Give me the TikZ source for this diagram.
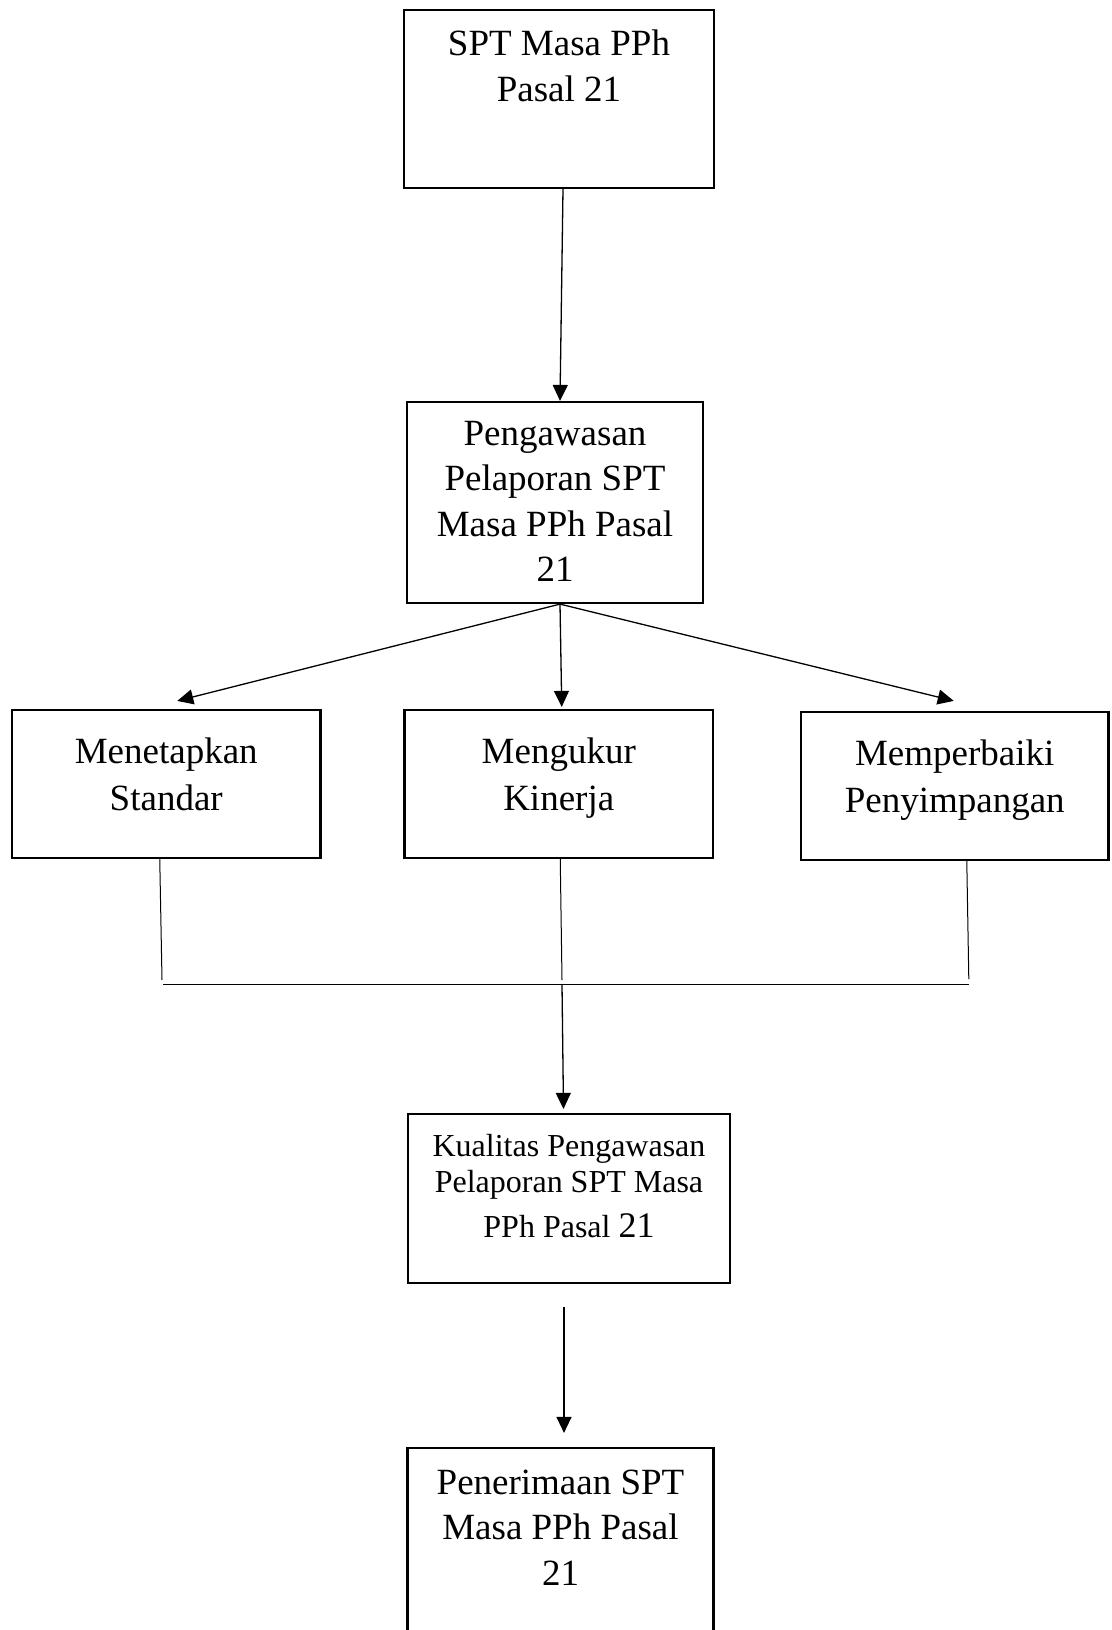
\documentclass[tikz,border=0pt]{standalone}
\usepackage{fontspec}
\setmainfont{Liberation Serif}
\usetikzlibrary{arrows.meta}
\begin{document}
\begin{tikzpicture}[x=1pt,y=-1pt,
  box/.style={draw,line width=2.2pt,rectangle,inner sep=0pt},
  lbl/.style={anchor=north,inner sep=0pt,align=center},
  arr/.style={line width=1.3pt,-{Triangle[length=16pt,width=15pt]}},
  thin line/.style={line width=1pt},
  big/.style={font=\fontsize{37}{46}\selectfont},
  small/.style={font=\fontsize{32}{36}\selectfont}]
\useasboundingbox (0,0) rectangle (1111,1630);
% boxes
\node[box,minimum width=310pt,minimum height=178pt] (b1) at (559,99) {};
\node[box,minimum width=296pt,minimum height=201pt] (b2) at (555,502.5) {};
\node[box,minimum width=308.5pt,minimum height=148pt] (b3) at (166.25,784) {};
\node[box,minimum width=308.5pt,minimum height=148pt] (b4) at (558.75,784) {};
\node[box,minimum width=307.5pt,minimum height=148pt] (b5) at (954.75,786) {};
\node[box,minimum width=322pt,minimum height=169pt] (b6) at (569,1198.5) {};
\node[box,minimum width=306pt,minimum height=220pt] (b7) at (560.5,1558) {};
% labels
\node[lbl,big] (t1) at (559,29.2) {SPT Masa PPh\\Pasal 21};
\node[lbl,big,font=\fontsize{37}{45.5}\selectfont] (t2) at (555,421) {Pengawasan\\Pelaporan SPT\\Masa PPh Pasal\\21};
\node[lbl,font=\fontsize{37}{47}\selectfont] (t3) at (166.25,737.7) {Menetapkan\\Standar};
\node[lbl,font=\fontsize{37}{47}\selectfont] (t4) at (558.75,737.7) {Mengukur\\Kinerja};
\node[lbl,font=\fontsize{37}{47}\selectfont] (t5) at (954.75,740) {Memperbaiki\\Penyimpangan};
\node[lbl,small] (t6) at (569,1134.5) {Kualitas Pengawasan\\Pelaporan SPT Masa\\[9pt]PPh Pasal {\fontsize{36}{36}\selectfont 21}};
\node[lbl,font=\fontsize{37}{45.7}\selectfont] (t7) at (560.5,1469.5) {Penerimaan SPT\\Masa PPh Pasal\\21};
% connectors
\draw[arr] ([xshift=4pt]b1.south) -- ([xshift=5pt]b2.north);
\coordinate (fo) at ([xshift=5pt]b2.south);
\draw[arr] (fo) -- ([xshift=11pt,yshift=8pt]b3.north);
\draw[arr] (fo) -- ([xshift=3pt,yshift=2pt]b4.north);
\draw[arr] (fo) -- ([xshift=-1pt,yshift=10pt]b5.north);
\coordinate (jl) at (162,980);
\coordinate (jm) at (562,980);
\coordinate (jr) at (968.8,979);
\coordinate (hl) at (163,984.5);
\coordinate (hr) at (969,984.5);
\coordinate (hm) at (562,984.5);
\draw[thin line] ([xshift=-6.5pt]b3.south) -- (jl);
\draw[thin line] ([xshift=1.5pt]b4.south) -- (jm);
\draw[thin line] ([xshift=12pt,yshift=2pt]b5.south) -- (jr);
\draw[line width=1.3pt] (hl) -- (hr);
\draw[arr] (hm) -- ([xshift=-5.5pt,yshift=4pt]b6.north);
\coordinate (s7) at (564,1307);
\draw[arr] (s7) -- ([xshift=3.5pt,yshift=14pt]b7.north);
\end{tikzpicture}
\end{document}
